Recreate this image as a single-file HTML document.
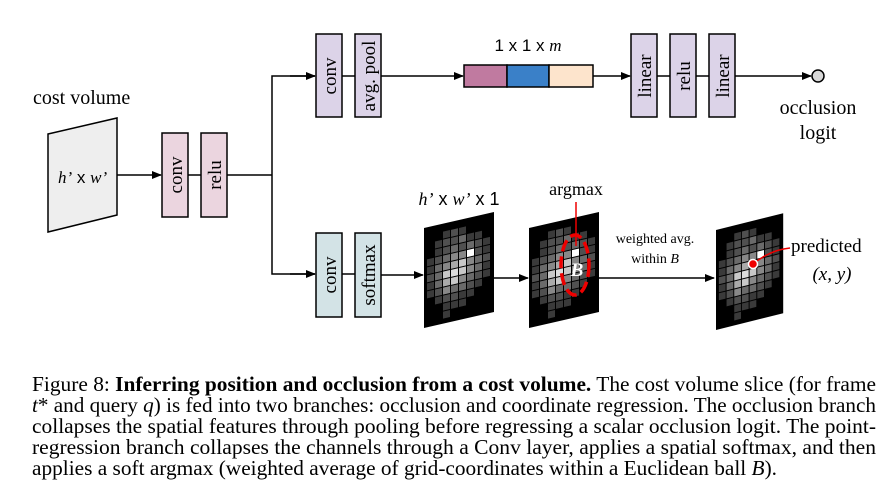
<!DOCTYPE html>
<html><head><meta charset="utf-8"><style>
html,body{margin:0;padding:0;background:#fff;width:896px;height:502px;overflow:hidden}
svg{display:block}
text{font-family:"Liberation Serif",serif}
</style></head><body>
<svg width="896" height="502" viewBox="0 0 896 502" xmlns="http://www.w3.org/2000/svg">
<defs>
<marker id="ar" markerWidth="10" markerHeight="8" refX="9" refY="4" orient="auto" markerUnits="userSpaceOnUse">
<path d="M0,0 L10,4 L0,8 z" fill="#000"/></marker>
<g id="hm">
<rect x="0" y="0" width="70" height="100" fill="#000"/>
<g>
<rect x="19" y="8" width="7" height="7" fill="#3a3a3a"/><rect x="27" y="8" width="7" height="7" fill="#505050"/><rect x="35" y="8" width="7" height="7" fill="#3a3a3a"/>
<rect x="11" y="16" width="7" height="7" fill="#3a3a3a"/><rect x="19" y="16" width="7" height="7" fill="#505050"/><rect x="27" y="16" width="7" height="7" fill="#505050"/><rect x="35" y="16" width="7" height="7" fill="#6a6a6a"/><rect x="43" y="16" width="7" height="7" fill="#3a3a3a"/><rect x="51" y="16" width="7" height="7" fill="#3a3a3a"/>
<rect x="11" y="24" width="7" height="7" fill="#3a3a3a"/><rect x="19" y="24" width="7" height="7" fill="#505050"/><rect x="27" y="24" width="7" height="7" fill="#6a6a6a"/><rect x="35" y="24" width="7" height="7" fill="#505050"/><rect x="43" y="24" width="7" height="7" fill="#6a6a6a"/><rect x="51" y="24" width="7" height="7" fill="#505050"/><rect x="59" y="24" width="7" height="7" fill="#3a3a3a"/>
<rect x="3" y="32" width="7" height="7" fill="#3a3a3a"/><rect x="11" y="32" width="7" height="7" fill="#505050"/><rect x="19" y="32" width="7" height="7" fill="#6a6a6a"/><rect x="27" y="32" width="7" height="7" fill="#888"/><rect x="35" y="32" width="7" height="7" fill="#888"/><rect x="43" y="32" width="7" height="7" fill="#fff"/><rect x="51" y="32" width="7" height="7" fill="#505050"/><rect x="59" y="32" width="7" height="7" fill="#3a3a3a"/>
<rect x="3" y="40" width="7" height="7" fill="#3a3a3a"/><rect x="11" y="40" width="7" height="7" fill="#6a6a6a"/><rect x="19" y="40" width="7" height="7" fill="#888"/><rect x="27" y="40" width="7" height="7" fill="#aaa"/><rect x="35" y="40" width="7" height="7" fill="#c8c8c8"/><rect x="43" y="40" width="7" height="7" fill="#888"/><rect x="51" y="40" width="7" height="7" fill="#6a6a6a"/><rect x="59" y="40" width="7" height="7" fill="#505050"/>
<rect x="3" y="48" width="7" height="7" fill="#505050"/><rect x="11" y="48" width="7" height="7" fill="#6a6a6a"/><rect x="19" y="48" width="7" height="7" fill="#c8c8c8"/><rect x="27" y="48" width="7" height="7" fill="#ddd"/><rect x="35" y="48" width="7" height="7" fill="#c8c8c8"/><rect x="43" y="48" width="7" height="7" fill="#888"/><rect x="51" y="48" width="7" height="7" fill="#6a6a6a"/><rect x="59" y="48" width="7" height="7" fill="#3a3a3a"/>
<rect x="3" y="56" width="7" height="7" fill="#3a3a3a"/><rect x="11" y="56" width="7" height="7" fill="#6a6a6a"/><rect x="19" y="56" width="7" height="7" fill="#aaa"/><rect x="27" y="56" width="7" height="7" fill="#c8c8c8"/><rect x="35" y="56" width="7" height="7" fill="#888"/><rect x="43" y="56" width="7" height="7" fill="#6a6a6a"/><rect x="51" y="56" width="7" height="7" fill="#505050"/><rect x="59" y="56" width="7" height="7" fill="#3a3a3a"/>
<rect x="3" y="64" width="7" height="7" fill="#3a3a3a"/><rect x="11" y="64" width="7" height="7" fill="#505050"/><rect x="19" y="64" width="7" height="7" fill="#888"/><rect x="27" y="64" width="7" height="7" fill="#6a6a6a"/><rect x="35" y="64" width="7" height="7" fill="#6a6a6a"/><rect x="43" y="64" width="7" height="7" fill="#505050"/><rect x="51" y="64" width="7" height="7" fill="#3a3a3a"/>
<rect x="11" y="72" width="7" height="7" fill="#3a3a3a"/><rect x="19" y="72" width="7" height="7" fill="#505050"/><rect x="27" y="72" width="7" height="7" fill="#505050"/><rect x="35" y="72" width="7" height="7" fill="#3a3a3a"/><rect x="43" y="72" width="7" height="7" fill="#3a3a3a"/>
<rect x="19" y="80" width="7" height="7" fill="#3a3a3a"/><rect x="27" y="80" width="7" height="7" fill="#3a3a3a"/><rect x="35" y="80" width="7" height="7" fill="#3a3a3a"/>
<rect x="19" y="88" width="7" height="7" fill="#3a3a3a"/>
</g>
</g>
</defs>

<!-- cost volume -->
<text x="33" y="104" font-size="20">cost volume</text>
<polygon points="48,134 117,118 117,215 48,232" fill="#eeeeee" stroke="#000" stroke-width="1.5"/>
<text x="58" y="183" font-size="17"><tspan font-style="italic">h’</tspan><tspan font-family="Liberation Sans"> x </tspan><tspan font-style="italic">w’</tspan></text>
<line x1="117" y1="175" x2="161" y2="175" stroke="#000" stroke-width="1.5" marker-end="url(#ar)"/>

<g stroke="#000" stroke-width="1.5">
<rect x="162" y="133" width="26" height="84" fill="#ebd5df"/>
<rect x="201" y="133" width="26" height="84" fill="#ebd5df"/>
<line x1="188" y1="175" x2="201" y2="175"/>
<polyline points="227,175 272,175" fill="none"/>
<polyline points="315,76 272,76 272,274 315,274" fill="none"/>
</g>
<line x1="290" y1="76" x2="315" y2="76" stroke="#000" stroke-width="1.5" marker-end="url(#ar)"/>
<line x1="290" y1="274" x2="315" y2="274" stroke="#000" stroke-width="1.5" marker-end="url(#ar)"/>

<g font-size="19" text-anchor="middle">
<text transform="translate(182,175) rotate(-90)">conv</text>
<text transform="translate(221,175) rotate(-90)">relu</text>
</g>

<!-- top branch -->
<g stroke="#000" stroke-width="1.5">
<rect x="316" y="34" width="26" height="83" fill="#dcd3e8"/>
<rect x="355" y="34" width="26" height="83" fill="#dcd3e8"/>
<line x1="342" y1="76" x2="355" y2="76"/>
<rect x="464" y="65" width="43" height="22" fill="#c07aa0"/>
<rect x="507" y="65" width="42" height="22" fill="#3a80c8"/>
<rect x="549" y="65" width="44" height="22" fill="#fde4cc"/>
<rect x="631" y="34" width="26" height="83" fill="#dcd3e8"/>
<rect x="670" y="34" width="26" height="83" fill="#dcd3e8"/>
<rect x="709" y="34" width="26" height="83" fill="#dcd3e8"/>
<line x1="657" y1="76" x2="670" y2="76"/>
<line x1="696" y1="76" x2="709" y2="76"/>
<circle cx="818" cy="76" r="6" fill="#d8d8d8"/>
</g>
<line x1="381" y1="76" x2="463" y2="76" stroke="#000" stroke-width="1.5" marker-end="url(#ar)"/>
<line x1="593" y1="76" x2="630" y2="76" stroke="#000" stroke-width="1.5" marker-end="url(#ar)"/>
<line x1="735" y1="76" x2="811" y2="76" stroke="#000" stroke-width="1.5" marker-end="url(#ar)"/>
<g font-size="19" text-anchor="middle">
<text transform="translate(336,76) rotate(-90)">conv</text>
<text transform="translate(375,76) rotate(-90)">avg. pool</text>
<text transform="translate(651,76) rotate(-90)">linear</text>
<text transform="translate(690,76) rotate(-90)">relu</text>
<text transform="translate(729,76) rotate(-90)">linear</text>
</g>
<text x="528" y="51" font-size="17" text-anchor="middle"><tspan font-family="Liberation Sans">1 x 1 x </tspan><tspan font-style="italic">m</tspan></text>
<text x="818" y="114" font-size="20" text-anchor="middle">occlusion</text>
<text x="818" y="139" font-size="20" text-anchor="middle">logit</text>

<!-- bottom branch -->
<g stroke="#000" stroke-width="1.5">
<rect x="316" y="233" width="26" height="84" fill="#d3e3e6"/>
<rect x="355" y="233" width="26" height="84" fill="#d3e3e6"/>
<line x1="342" y1="274" x2="355" y2="274"/>
</g>
<g font-size="19" text-anchor="middle">
<text transform="translate(336,275) rotate(-90)">conv</text>
<text transform="translate(375,275) rotate(-90)">softmax</text>
</g>
<line x1="381" y1="275" x2="423" y2="275" stroke="#000" stroke-width="1.5" marker-end="url(#ar)"/>
<line x1="494" y1="278" x2="528" y2="278" stroke="#000" stroke-width="1.5" marker-end="url(#ar)"/>
<line x1="599" y1="278" x2="714" y2="278" stroke="#000" stroke-width="1.5" marker-end="url(#ar)"/>

<use href="#hm" transform="matrix(1,-0.229,0,1,424,228)"/>
<use href="#hm" transform="matrix(1,-0.229,0,1,529,228)"/>
<use href="#hm" transform="matrix(0.96,-0.24,0,1,716,230)"/>

<text x="459" y="205" font-size="18" text-anchor="middle"><tspan font-style="italic">h’</tspan><tspan font-family="Liberation Sans"> x </tspan><tspan font-style="italic">w’</tspan><tspan font-family="Liberation Sans"> x 1</tspan></text>
<text x="576" y="195" font-size="18" text-anchor="middle">argmax</text>
<line x1="576" y1="202" x2="576" y2="246" stroke="#e00" stroke-width="1.5"/>
<ellipse cx="575" cy="265" rx="14" ry="30" fill="none" stroke="#e00" stroke-width="3.5" stroke-dasharray="12,5"/>
<text x="577" y="276" font-size="19" font-weight="bold" font-style="italic" fill="#fff" text-anchor="middle">B</text>

<text x="655" y="243" font-size="14" text-anchor="middle">weighted avg.</text>
<text x="655" y="263" font-size="14" text-anchor="middle">within <tspan font-style="italic">B</tspan></text>

<path d="M753,264 Q770,250 790,248" fill="none" stroke="#e00" stroke-width="1.5"/>
<circle cx="753" cy="264" r="4.5" fill="#e00" stroke="#fff" stroke-width="1.5"/>
<text x="791" y="252" font-size="19">predicted</text>
<text x="832" y="280" font-size="19" font-style="italic" text-anchor="middle">(x, y)</text>

<!-- caption -->
<g font-size="21">
<text x="32" y="391" textLength="844" lengthAdjust="spacingAndGlyphs">Figure 8: <tspan font-weight="bold">Inferring position and occlusion from a cost volume.</tspan> The cost volume slice (for frame</text>
<text x="32" y="412" textLength="844" lengthAdjust="spacingAndGlyphs"><tspan font-style="italic">t</tspan>* and query <tspan font-style="italic">q</tspan>) is fed into two branches: occlusion and coordinate regression. The occlusion branch</text>
<text x="32" y="433" textLength="844" lengthAdjust="spacingAndGlyphs">collapses the spatial features through pooling before regressing a scalar occlusion logit. The point-</text>
<text x="32" y="454" textLength="844" lengthAdjust="spacingAndGlyphs">regression branch collapses the channels through a Conv layer, applies a spatial softmax, and then</text>
<text x="32" y="475" textLength="745" lengthAdjust="spacingAndGlyphs">applies a soft argmax (weighted average of grid-coordinates within a Euclidean ball <tspan font-style="italic">B</tspan>).</text>
</g>
</svg>
</body></html>
